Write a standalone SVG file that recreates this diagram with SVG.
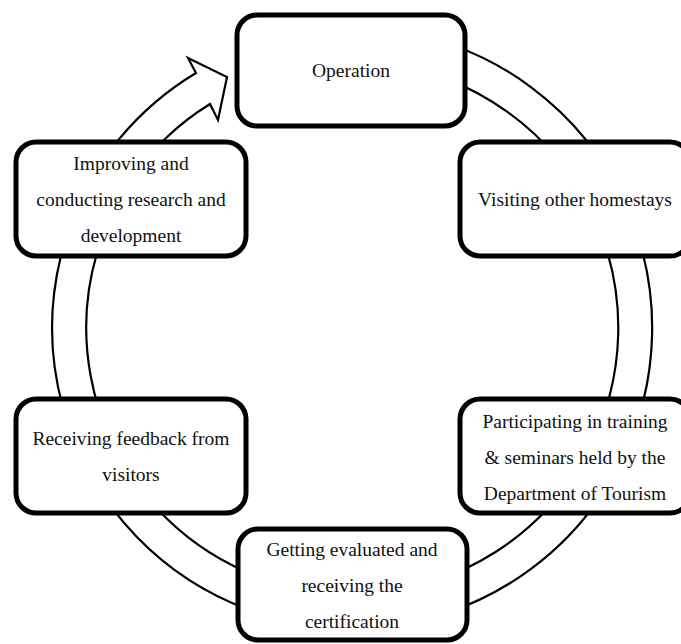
<svg xmlns="http://www.w3.org/2000/svg" width="681" height="644" viewBox="0 0 681 644">
  <style>
    .ring { fill: none; stroke: #000; stroke-width: 2.2; }
    .box { fill: #fff; stroke: #000; stroke-width: 5; }
    .label { font-family: "Liberation Serif", "Times New Roman", serif; font-size: 19.5px; fill: #111; text-anchor: middle; }
  </style>
  <rect width="681" height="644" fill="#fff"/>

  <!-- Cycle band: two concentric arcs with an open arrowhead leading into the top step -->
  <g id="connectors">
    <path class="ring" d="M 260,42.5 A 300 300 0 1 1 120,138"/>
    <path class="ring" d="M 260,78.4 A 266 266 0 1 1 166,138"/>
    <path class="ring" fill="#fff" d="M 120,138 A 300 300 0 0 1 196,73 L 188,58 L 227,77 L 218,120 L 210,104 A 266 266 0 0 0 166,138"/>
  </g>

  <g id="operation">
    <rect class="box" x="237" y="15" width="228" height="111" rx="20"/>
    <text class="label" x="351" y="77">Operation</text>
  </g>

  <g id="visiting">
    <rect class="box" x="460" y="142" width="230" height="114" rx="20"/>
    <text class="label" x="575" y="206">Visiting other homestays</text>
  </g>

  <g id="training">
    <rect class="box" x="460" y="399" width="230" height="114" rx="20"/>
    <text class="label" x="575" y="428">Participating in training</text>
    <text class="label" x="575" y="464">&amp; seminars held by the</text>
    <text class="label" x="575" y="500">Department of Tourism</text>
  </g>

  <g id="evaluation">
    <rect class="box" x="238" y="529" width="229" height="111" rx="20"/>
    <text class="label" x="352" y="556">Getting evaluated and</text>
    <text class="label" x="352" y="592">receiving the</text>
    <text class="label" x="352" y="628">certification</text>
  </g>

  <g id="feedback">
    <rect class="box" x="16" y="399" width="230" height="114" rx="20"/>
    <text class="label" x="131" y="445">Receiving feedback from</text>
    <text class="label" x="131" y="481">visitors</text>
  </g>

  <g id="improving">
    <rect class="box" x="16" y="142" width="230" height="114" rx="20"/>
    <text class="label" x="131" y="170">Improving and</text>
    <text class="label" x="131" y="206">conducting research and</text>
    <text class="label" x="131" y="242">development</text>
  </g>
</svg>
